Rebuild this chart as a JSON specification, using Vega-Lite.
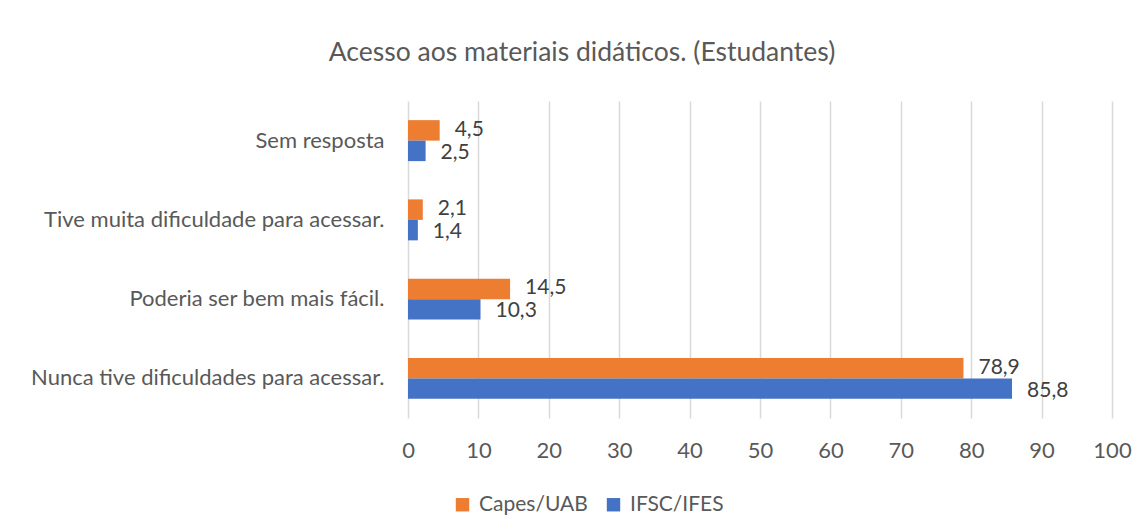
{
  "$schema": "https://vega.github.io/schema/vega-lite/v6.json",
  "autosize": {"type": "none"},
  "width": 704,
  "height": 317,
  "padding": {"left": 408, "top": 101, "right": 33, "bottom": 114},
  "background": "#ffffff",
  "config": {
    "font": "Lato",
    "view": {"stroke": null},
    "locale": {"number": {"decimal": ",", "thousands": ".", "grouping": [3], "currency": ["", ""]}}
  },
  "title": {
    "text": "Acesso aos materiais didáticos. (Estudantes)",
    "font": "Lato",
    "fontSize": 26.5,
    "fontWeight": "normal",
    "color": "#595959",
    "anchor": "middle",
    "dx": -178,
    "offset": 35
  },
  "data": {
    "values": [
      {"categoria": "Sem resposta", "grupo": "Capes/UAB", "valor": 4.5},
      {"categoria": "Sem resposta", "grupo": "IFSC/IFES", "valor": 2.5},
      {"categoria": "Tive muita dificuldade para acessar.", "grupo": "Capes/UAB", "valor": 2.1},
      {"categoria": "Tive muita dificuldade para acessar.", "grupo": "IFSC/IFES", "valor": 1.4},
      {"categoria": "Poderia ser bem mais fácil.", "grupo": "Capes/UAB", "valor": 14.5},
      {"categoria": "Poderia ser bem mais fácil.", "grupo": "IFSC/IFES", "valor": 10.3},
      {"categoria": "Nunca tive dificuldades para acessar.", "grupo": "Capes/UAB", "valor": 78.9},
      {"categoria": "Nunca tive dificuldades para acessar.", "grupo": "IFSC/IFES", "valor": 85.8}
    ]
  },
  "encoding": {
    "y": {
      "field": "categoria",
      "type": "nominal",
      "sort": ["Sem resposta", "Tive muita dificuldade para acessar.", "Poderia ser bem mais fácil.", "Nunca tive dificuldades para acessar."],
      "scale": {"paddingInner": 0.483, "paddingOuter": 0.2415},
      "axis": {
        "title": null,
        "domain": false,
        "ticks": false,
        "labelPadding": 24,
        "labelFontSize": 22,
        "labelLimit": 500,
        "labelColor": "#595959",
        "labelFont": "Lato"
      }
    },
    "yOffset": {
      "field": "grupo",
      "type": "nominal",
      "sort": ["Capes/UAB", "IFSC/IFES"],
      "scale": {"paddingInner": 0, "paddingOuter": 0}
    },
    "x": {
      "field": "valor",
      "type": "quantitative",
      "scale": {"domain": [0, 100], "nice": false},
      "axis": {
        "title": null,
        "values": [0, 10, 20, 30, 40, 50, 60, 70, 80, 90, 100],
        "domain": false,
        "ticks": false,
        "grid": true,
        "gridColor": "#d9d9d9",
        "gridWidth": 1.5,
        "labelFlush": false,
        "labelOverlap": false,
        "labelPadding": 22,
        "labelFontSize": 22,
        "labelColor": "#595959",
        "labelFont": "Lato",
        "format": "d"
      }
    }
  },
  "layer": [
    {
      "mark": {"type": "bar"},
      "encoding": {
        "color": {
          "field": "grupo",
          "type": "nominal",
          "sort": ["Capes/UAB", "IFSC/IFES"],
          "scale": {"domain": ["Capes/UAB", "IFSC/IFES"], "range": ["#ED7D31", "#4472C4"]},
          "legend": {
            "title": null,
            "orient": "none",
            "direction": "horizontal",
            "legendX": 44,
            "legendY": 393,
            "symbolType": "square",
            "symbolSize": 180,
            "symbolStrokeWidth": 0,
            "labelFontSize": 21,
            "labelColor": "#595959",
            "labelFont": "Lato",
            "columnPadding": 15,
            "labelOffset": 6
          }
        }
      }
    },
    {
      "transform": [{"filter": "datum.grupo === 'Capes/UAB'"}],
      "mark": {"type": "text", "align": "left", "baseline": "middle", "dx": 15, "dy": -0.5, "fontSize": 21, "color": "#404040", "font": "Lato"},
      "encoding": {
        "text": {"field": "valor", "type": "quantitative", "format": ".1f"}
      }
    },
    {
      "transform": [{"filter": "datum.grupo === 'IFSC/IFES'"}],
      "mark": {"type": "text", "align": "left", "baseline": "middle", "dx": 15, "dy": 2, "fontSize": 21, "color": "#404040", "font": "Lato"},
      "encoding": {
        "text": {"field": "valor", "type": "quantitative", "format": ".1f"}
      }
    }
  ]
}
